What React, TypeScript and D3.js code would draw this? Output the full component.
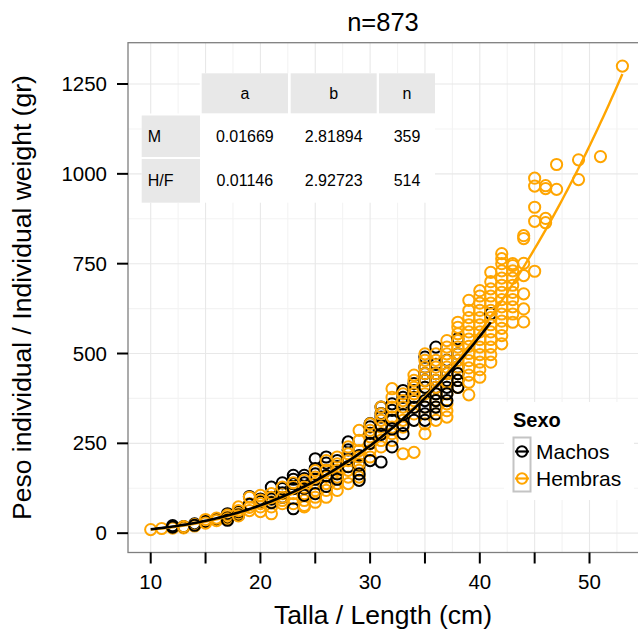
import React from "react";
import * as d3 from "d3";

// Length (cm) / weight (gr) observations by sex
const machos: [number, number][] = [
  [12, 21], [12, 17], [13, 18], [14, 26], [14, 22], [15, 32], [16, 38],
  [17, 54], [17, 42], [17, 36], [18, 60], [18, 50], [19, 102], [19, 80],
  [20, 88], [20, 95], [21, 128], [21, 95], [21, 85],
  [22, 140], [22, 124], [22, 112], [22, 100],
  [23, 161], [23, 150], [23, 138], [23, 124], [23, 68],
  [24, 161], [24, 152], [24, 140], [24, 125], [24, 105],
  [25, 207], [25, 180], [25, 165], [25, 150], [25, 110],
  [26, 212], [26, 195], [26, 175], [26, 160], [26, 130],
  [27, 202], [27, 185], [27, 165], [27, 150],
  [28, 254], [28, 232], [28, 205], [28, 185],
  [29, 216], [29, 190], [29, 165], [29, 147],
  [30, 305], [30, 296], [30, 278], [30, 250], [30, 202],
  [31, 351], [31, 333], [31, 323], [31, 300], [31, 275], [31, 198],
  [32, 360], [32, 342], [32, 314], [32, 290], [32, 240],
  [33, 397], [33, 378], [33, 360], [33, 330], [33, 300], [33, 277],
  [34, 416], [34, 397], [34, 378], [34, 350], [34, 314],
  [35, 490], [35, 462], [35, 444], [35, 425], [35, 406], [35, 369], [35, 351], [35, 332], [35, 314],
  [36, 518], [36, 470], [36, 444], [36, 425], [36, 406], [36, 388], [36, 369], [36, 351], [36, 332],
  [37, 481], [37, 444], [37, 425], [37, 406], [37, 388], [37, 369],
  [38, 541], [38, 499], [38, 462], [38, 444], [38, 425], [38, 406],
  [41, 611],
];

const hembras: [number, number][] = [
  [10, 10], [11, 13], [12, 14], [13, 15], [13, 18], [14, 20], [14, 24],
  [15, 32], [15, 38], [15, 28], [16, 38], [16, 35], [16, 42],
  [17, 45], [17, 50], [17, 40], [18, 54], [18, 63], [18, 73], [18, 48],
  [19, 63], [19, 82], [19, 100], [19, 72],
  [20, 73], [20, 82], [20, 105], [20, 92], [20, 60],
  [21, 54], [21, 73], [21, 87], [21, 100], [21, 110],
  [22, 82], [22, 91], [22, 110], [22, 128], [22, 100],
  [23, 82], [23, 96], [23, 110], [23, 128], [23, 140],
  [24, 73], [24, 77], [24, 91], [24, 110], [24, 128], [24, 147],
  [25, 86], [25, 100], [25, 119], [25, 138], [25, 156], [25, 174],
  [26, 100], [26, 119], [26, 138], [26, 156], [26, 175], [26, 202],
  [27, 119], [27, 138], [27, 156], [27, 175], [27, 193], [27, 212],
  [28, 138], [28, 156], [28, 175], [28, 202], [28, 221], [28, 240],
  [29, 156], [29, 175], [29, 193], [29, 212], [29, 230], [29, 258], [29, 286],
  [30, 212], [30, 230], [30, 249], [30, 268], [30, 286], [30, 304],
  [31, 240], [31, 258], [31, 277], [31, 295], [31, 314], [31, 332], [31, 351],
  [32, 258], [32, 277], [32, 295], [32, 323], [32, 351], [32, 378], [32, 402],
  [33, 221], [33, 295], [33, 314], [33, 332], [33, 351], [33, 369], [33, 388],
  [34, 225], [34, 332], [34, 351], [34, 369], [34, 388], [34, 406], [34, 425], [34, 440],
  [35, 277], [35, 304], [35, 351], [35, 388], [35, 406], [35, 425], [35, 444], [35, 462], [35, 481], [35, 499],
  [36, 314], [36, 332], [36, 351], [36, 370], [36, 388], [36, 406], [36, 425], [36, 444], [36, 462], [36, 481], [36, 499],
  [37, 323], [37, 341], [37, 360], [37, 388], [37, 420], [37, 444], [37, 462], [37, 480], [37, 499], [37, 518], [37, 536],
  [38, 406], [38, 425], [38, 444], [38, 462], [38, 481], [38, 499], [38, 518], [38, 536], [38, 555], [38, 573], [38, 587],
  [39, 385], [39, 420], [39, 440], [39, 460], [39, 480], [39, 500], [39, 520], [39, 540], [39, 560], [39, 580], [39, 600], [39, 620], [39, 648],
  [40, 434], [40, 455], [40, 476], [40, 497], [40, 518], [40, 539], [40, 560], [40, 580], [40, 600], [40, 620], [40, 640], [40, 660], [40, 675],
  [41, 476], [41, 497], [41, 518], [41, 539], [41, 560], [41, 580], [41, 600], [41, 620], [41, 640], [41, 660], [41, 680], [41, 700], [41, 726],
  [42, 527], [42, 550], [42, 570], [42, 590], [42, 610], [42, 630], [42, 650], [42, 670], [42, 690], [42, 710], [42, 730], [42, 750], [42, 764], [42, 778],
  [43, 587], [43, 610], [43, 630], [43, 650], [43, 670], [43, 690], [43, 710], [43, 730], [43, 745], [43, 750],
  [44, 588], [44, 624], [44, 666], [44, 717], [44, 751], [44, 820], [44, 828],
  [45, 729], [45, 868], [45, 907], [45, 966], [45, 988],
  [46, 864], [46, 876], [46, 959], [46, 967],
  [47, 957], [47, 1026],
  [49, 984], [49, 1039],
  [51, 1048],
  [53, 1300],
];

// Fitted length–weight relation W = a * L^b
const fitA = [0.01669, 0.01146];
const fitB = [2.81894, 2.92723];

// Summary table contents
const tableCols = ["a", "b", "n"];
const tableRows = ["M", "H/F"];
const tableA = ["0.01669", "0.01146"];
const tableB = ["2.81894", "2.92723"];
const tableN = ["359", "514"];

const xBreaks = [10, 15, 20, 25, 30, 35, 40, 45, 50, 55];
const xLabels = ["10", "", "20", "", "30", "", "40", "", "50", ""];
const yBreaks = [0, 250, 500, 750, 1000, 1250];

const legendLabels = ["Machos", "Hembras"];
const colors = ["#000000", "#FFA500"];

const FONT = "'Liberation Sans', Arial, Helvetica, sans-serif";

export default function App() {
  const W = 638;
  const H = 632;
  const left = 128;
  const right = 648.3;
  const top = 42.7;
  const bottom = 552.5;

  const x = d3.scaleLinear().domain([7.93, 55.36]).range([left, right]);
  const y = d3.scaleLinear().domain([-53.8, 1365]).range([bottom, top]);

  const xMinor = d3.range(7.5, 56, 2.5).filter((v) => v % 5 !== 0 && v >= 7.93 && v <= 55.36);
  const yMinor = [-125, 125, 375, 625, 875, 1125, 1375].filter((v) => v >= -53.8 && v <= 1365);

  const allL = [...machos, ...hembras].map((d) => d[0]);
  const minL = d3.min(allL) as number;
  const maxL = [d3.max(machos, (d) => d[0]) as number, d3.max(hembras, (d) => d[0]) as number];

  const line = d3.line<number>().x((l) => x(l));

  const curvePath = (i: number) => {
    const ls = d3.range(minL, maxL[i] + 0.001, 0.25);
    return line.y((l) => y(fitA[i] * Math.pow(l, fitB[i])))(ls) || "";
  };

  // interleave the two series so neither colour sits entirely on top
  const pts: { l: number; w: number; s: number }[] = [];
  const lengths = Array.from(new Set(allL)).sort((a, b) => a - b);
  lengths.forEach((l) => {
    const m = machos.filter((d) => d[0] === l);
    const h = hembras.filter((d) => d[0] === l);
    const n = Math.max(m.length, h.length);
    for (let k = 0; k < n; k++) {
      if (h[k]) pts.push({ l, w: h[k][1], s: 1 });
      if (m[k]) pts.push({ l, w: m[k][1], s: 0 });
    }
  });

  // table geometry
  const colX = [141.7, 201.7, 290.7, 379];
  const colW = [58.3, 86.3, 86, 56];
  const rowY = [73.3, 115.5, 159];
  const rowH = [40, 41.5, 43.7];
  const cellFill = "#e8e8e8";

  return (
    <svg
      width={W}
      height={H}
      style={{ position: "absolute", left: 0, top: 0, background: "#fff" }}
      fontFamily={FONT}
    >
      <rect x={0} y={0} width={W} height={H} fill="#fff" />
      <defs>
        <clipPath id="panel">
          <rect x={left} y={top} width={right - left} height={bottom - top} />
        </clipPath>
      </defs>

      {/* panel grid */}
      <g clipPath="url(#panel)">
        <rect x={left} y={top} width={right - left} height={bottom - top} fill="#fff" />
        {xMinor.map((v) => (
          <line key={"xm" + v} x1={x(v)} x2={x(v)} y1={top} y2={bottom} stroke="#f3f3f3" strokeWidth={1.1} />
        ))}
        {yMinor.map((v) => (
          <line key={"ym" + v} x1={left} x2={right} y1={y(v)} y2={y(v)} stroke="#f3f3f3" strokeWidth={1.1} />
        ))}
        {xBreaks.map((v) => (
          <line key={"xg" + v} x1={x(v)} x2={x(v)} y1={top} y2={bottom} stroke="#e8e8e8" strokeWidth={1.1} />
        ))}
        {yBreaks.map((v) => (
          <line key={"yg" + v} x1={left} x2={right} y1={y(v)} y2={y(v)} stroke="#e8e8e8" strokeWidth={1.1} />
        ))}
      </g>

      {/* fit table */}
      <g>
        <rect x={colX[1] - 2} y={rowY[0]} width={colX[3] + colW[3] - colX[1] + 2} height={rowH[0] + 2} fill="#fff" />
        <rect x={colX[0]} y={rowY[1] - 2} width={colX[3] + colW[3] - colX[0]} height={rowY[2] + rowH[2] - rowY[1] + 2} fill="#fff" />
        {tableCols.map((c, j) => (
          <g key={"ch" + c}>
            <rect x={colX[j + 1]} y={rowY[0]} width={colW[j + 1]} height={rowH[0]} fill={cellFill} />
            <text x={colX[j + 1] + colW[j + 1] / 2} y={rowY[0] + rowH[0] / 2 + 5.6} textAnchor="middle" fontSize={16} fill="#000">
              {c}
            </text>
          </g>
        ))}
        {tableRows.map((r, i) => {
          const vals = [tableA[i], tableB[i], tableN[i]];
          const cy = rowY[i + 1] + rowH[i + 1] / 2 + 5.6;
          return (
            <g key={"row" + r}>
              <rect x={colX[0]} y={rowY[i + 1]} width={colW[0]} height={rowH[i + 1]} fill={cellFill} />
              <text x={colX[0] + 6} y={cy} fontSize={16} fill="#000">
                {r}
              </text>
              {vals.map((v, j) => (
                <text key={j} x={colX[j + 1] + colW[j + 1] / 2} y={cy} textAnchor="middle" fontSize={16} fill="#000">
                  {v}
                </text>
              ))}
            </g>
          );
        })}
      </g>

      {/* points and fitted curves */}
      <g clipPath="url(#panel)">
        {pts.map((p, i) => (
          <circle key={i} cx={x(p.l)} cy={y(p.w)} r={5.6} fill="none" stroke={colors[p.s]} strokeWidth={2} />
        ))}
        <path d={curvePath(1)} fill="none" stroke={colors[1]} strokeWidth={2.4} />
        <path d={curvePath(0)} fill="none" stroke={colors[0]} strokeWidth={2.6} />
      </g>

      {/* panel border */}
      <rect x={left} y={top} width={right - left} height={bottom - top} fill="none" stroke="#7f7f7f" strokeWidth={1.3} />

      {/* axes */}
      {xBreaks.filter((v) => x(v) <= W).map((v, i) => (
        <g key={"xt" + v}>
          <line x1={x(v)} x2={x(v)} y1={bottom} y2={bottom + 11} stroke="#000" strokeWidth={2} />
          <text x={x(v)} y={589} textAnchor="middle" fontSize={20.5} fill="#000">
            {xLabels[i]}
          </text>
        </g>
      ))}
      {yBreaks.map((v) => (
        <g key={"yt" + v}>
          <line x1={left - 11} x2={left} y1={y(v)} y2={y(v)} stroke="#000" strokeWidth={2} />
          <text x={107} y={y(v) + 7} textAnchor="end" fontSize={20.5} fill="#000">
            {v}
          </text>
        </g>
      ))}

      <text x={(left + W) / 2} y={623.5} textAnchor="middle" fontSize={26.5} fill="#000">
        Talla / Length (cm)
      </text>
      <text
        transform={`translate(31, ${(top + bottom) / 2}) rotate(-90)`}
        textAnchor="middle"
        fontSize={26.5}
        fill="#000"
      >
        Peso individual / Individual weight (gr)
      </text>
      <text x={(left + W) / 2} y={31} textAnchor="middle" fontSize={25.5} fill="#000">
        n=873
      </text>

      {/* legend */}
      <g>
        <rect x={504} y={402} width={130} height={98} fill="#fff" />
        <text x={513} y={427} fontSize={20} fontWeight="bold" fill="#000">
          Sexo
        </text>
        {legendLabels.map((lab, i) => {
          const cy = 451.5 + i * 27;
          return (
            <g key={lab}>
              <line x1={515} x2={529} y1={cy} y2={cy} stroke={colors[i]} strokeWidth={2.2} />
              <circle cx={522} cy={cy} r={5.2} fill="none" stroke={colors[i]} strokeWidth={2} />
              <text x={536} y={cy + 7.5} fontSize={21} fill="#000">
                {lab}
              </text>
            </g>
          );
        })}
        <rect x={513.5} y={437.5} width={17} height={54} fill="none" stroke="#c4c4c4" strokeWidth={2} />
      </g>
    </svg>
  );
}
